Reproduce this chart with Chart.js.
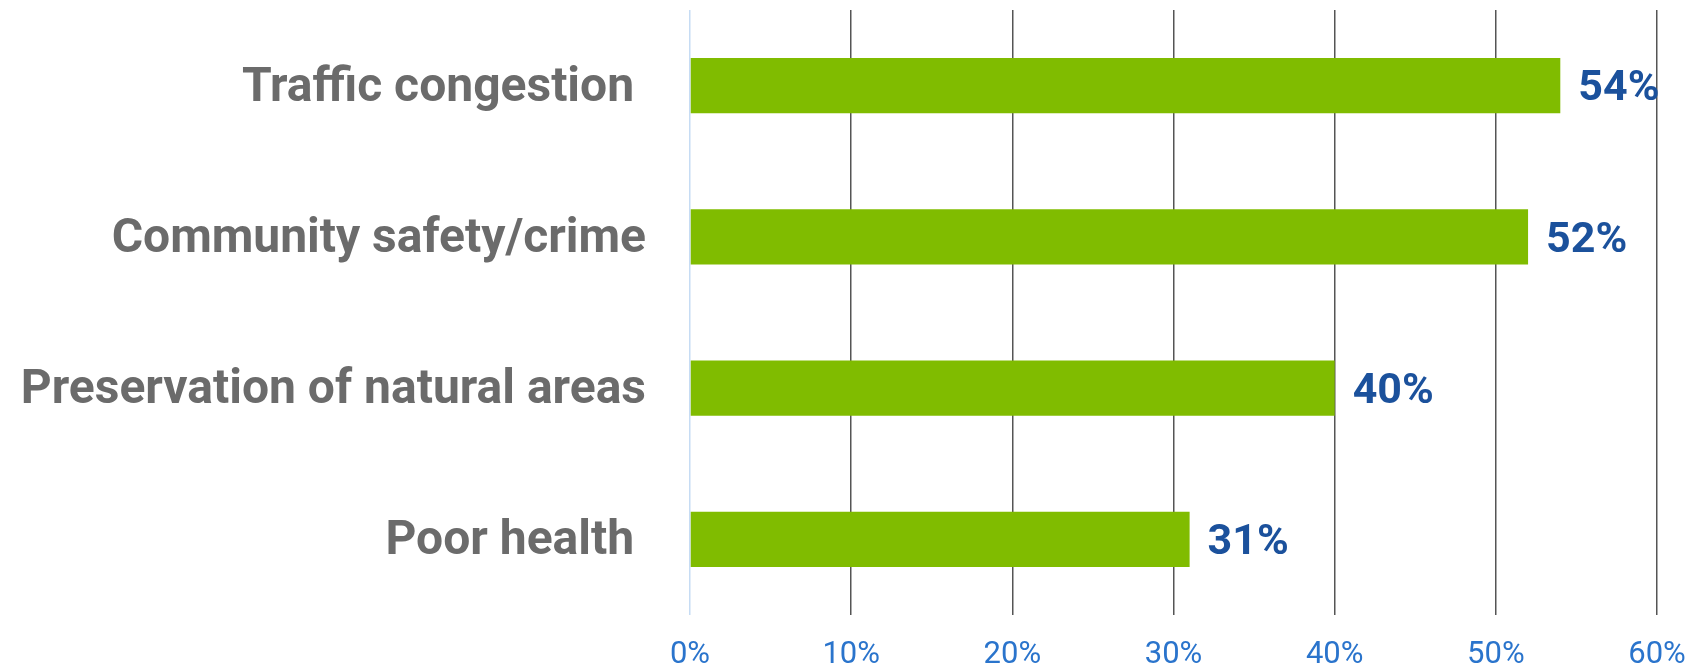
<!DOCTYPE html>
<html lang="en">
<head>
  <meta charset="UTF-8">
  <title>Concerns</title>
  <script src="https://cdn.jsdelivr.net/npm/chart.js"></script>
  <style>
    body { margin: 0; background: #fff; }
  </style>
</head>
<body>
  <div style="width: 1694px; height: 670px;">
    <canvas id="barChart"></canvas>
  </div>

  <script>
    const categories = ['Traffic congestion ', 'Community safety/crime', 'Preservation of natural areas', 'Poor health '];
    const values = [54, 52, 40, 31];
    const tickValues = [0, 10, 20, 30, 40, 50, 60];

    // draws the "54%" style labels at the end of each bar
    const valueLabels = {
      id: 'valueLabels',
      afterDatasetsDraw(chart) {
        const ctx = chart.ctx;
        const meta = chart.getDatasetMeta(0);
        ctx.save();
        ctx.font = 'bold 43px Roboto';
        ctx.fillStyle = '#1b519c';
        ctx.textAlign = 'left';
        ctx.textBaseline = 'middle';
        meta.data.forEach((bar, i) => {
          ctx.fillText(values[i] + '%', bar.x + 18, bar.y + 4);
        });
        ctx.restore();
      }
    };

    const config = {
      type: 'bar',
      data: {
        labels: categories,
        datasets: [{
          data: values,
          backgroundColor: '#80bc00',
          borderWidth: 0,
          barPercentage: 0.364,
          categoryPercentage: 1
        }]
      },
      options: {
        indexAxis: 'y',
        responsive: true,
        maintainAspectRatio: false,
        animation: false,
        layout: { padding: { top: 10, right: 37, bottom: 0, left: 0 } },
        plugins: {
          legend: { display: false },
          tooltip: { enabled: false }
        },
        scales: {
          x: {
            min: 0,
            max: 60,
            afterBuildTicks: scale => { scale.ticks = tickValues.map(v => ({ value: v })); },
            afterFit: scale => {
              scale.height = 55;
              scale.paddingLeft = 0;
              scale.paddingRight = 0;
            },
            grid: {
              drawTicks: false,
              color: ctx => ctx.index === 0 ? '#c6dcf4' : '#555555',
              lineWidth: 1.5
            },
            border: { display: false },
            ticks: {
              padding: 22,
              color: '#2a74cc',
              font: { family: 'Roboto', size: 31 },
              callback: v => v + '%'
            }
          },
          y: {
            afterFit: scale => {
              scale.width = 690;
              scale.paddingTop = 0;
              scale.paddingBottom = 0;
            },
            grid: { display: false, drawTicks: false },
            border: { display: false },
            ticks: {
              padding: 44,
              labelOffset: 3,
              color: '#6b6b6b',
              font: { family: 'Roboto', size: 48, weight: 'bold' }
            }
          }
        }
      },
      plugins: [valueLabels]
    };

    new Chart(document.getElementById('barChart'), config);
  </script>
</body>
</html>
